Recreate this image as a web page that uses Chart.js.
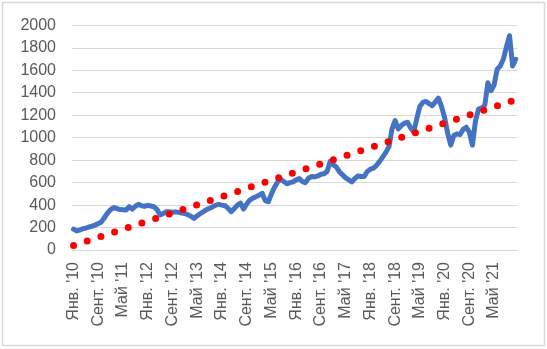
<!DOCTYPE html>
<html>
<head>
<meta charset="utf-8">
<script src="https://cdn.jsdelivr.net/npm/chart.js@4"></script>
<style>
  body { margin: 0; background: #fff; }
  #wrap { width: 547px; height: 349px; position: relative; }
</style>
</head>
<body>
<div id="wrap"><canvas id="chart"></canvas></div>
<script>
// подписи месяцев и годы
const monthNames = ['Янв.', 'Февр.', 'Март', 'Апр.', 'Май', 'Июнь', 'Июль', 'Авг.', 'Сент.', 'Окт.', 'Нояб.', 'Дек.'];
const years = ['10', '11', '12', '13', '14', '15', '16', '17', '18', '19', '20', '21'];

// значения ряда, по месяцам с янв. 2010
const values = [
  186, 170, 178, 190, 195, 205, 212, 222, 235, 250, 290, 330,
  360, 378, 370, 360, 358, 356, 386, 365, 390, 407, 395, 390,
  398, 392, 386, 360, 312, 325, 342, 340, 336, 340, 335, 330,
  325, 315, 300, 282, 305, 325, 342, 360, 372, 386, 400, 407,
  400, 395, 370, 342, 370, 400, 418, 365, 410, 445, 462, 474,
  489, 505, 440, 430, 500, 560, 607, 630, 610, 590, 600, 607,
  625, 637, 610, 600, 640, 655, 651, 660, 675, 680, 700, 790,
  760, 740, 696, 670, 643, 625, 607, 637, 660, 655, 655, 700,
  720, 730, 755, 790, 830, 870, 920, 1080, 1153, 1080, 1110, 1130,
  1138, 1090, 1050, 1170, 1280, 1315, 1324, 1305, 1286, 1320, 1354, 1280,
  1180, 1040, 935, 1020, 1035, 1030, 1075, 1094, 1050, 935, 1153, 1257,
  1265, 1290, 1490, 1420, 1470, 1611, 1640, 1700, 1810, 1910, 1640, 1700
];

// линия тренда: начало и конец
const trendValues = [40, 1340];

const labels = [];
years.forEach(y => {
  monthNames.forEach(m => labels.push(m + " '" + y));
});

const frame = {
  id: 'frame',
  afterDraw(chart) {
    const c = chart.ctx;
    c.save();
    c.strokeStyle = '#d9d9d9';
    c.lineWidth = 1.5;
    c.strokeRect(2.5, 2.5, 542, 343);
    c.restore();
  }
};

new Chart(document.getElementById('chart'), {
  type: 'line',
  data: {
    labels: labels,
    datasets: [{
      data: values,
      borderColor: '#4472C4',
      borderWidth: 5,
      borderJoinStyle: 'round',
      borderCapStyle: 'round',
      pointRadius: 0,
      tension: 0,
      order: 1
    }, {
      data: [
        { x: labels[0], y: trendValues[0] },
        { x: labels[labels.length - 1], y: trendValues[1] }
      ],
      borderColor: '#FF0000',
      borderWidth: 7,
      borderDash: [0, 14.4],
      borderCapStyle: 'round',
      pointRadius: 0,
      order: 0
    }]
  },
  options: {
    responsive: true,
    maintainAspectRatio: false,
    animation: false,
    layout: { padding: { top: 23, right: 26, left: 0, bottom: 0 } },
    plugins: {
      legend: { display: false },
      tooltip: { enabled: false }
    },
    scales: {
      x: {
        offset: true,
        grid: { display: false, drawTicks: false },
        border: { display: true, color: '#d9d9d9', width: 1 },
        ticks: {
          autoSkip: false,
          minRotation: 90,
          maxRotation: 90,
          padding: 12,
          color: '#595959',
          font: { family: 'Liberation Sans', size: 16 },
          callback: function (val, i) {
            return i % 8 === 0 ? labels[i] : '';
          }
        },
        afterFit: s => { s.height = 99; }
      },
      y: {
        min: 0,
        max: 2000,
        grid: { color: '#d9d9d9', lineWidth: 1, drawTicks: false },
        border: { display: false },
        ticks: {
          stepSize: 200,
          padding: 16,
          color: '#595959',
          font: { family: 'Liberation Sans', size: 16 },
          callback: v => String(v)
        },
        afterFit: s => { s.width = 72; }
      }
    }
  },
  plugins: [frame]
});
</script>
</body>
</html>
